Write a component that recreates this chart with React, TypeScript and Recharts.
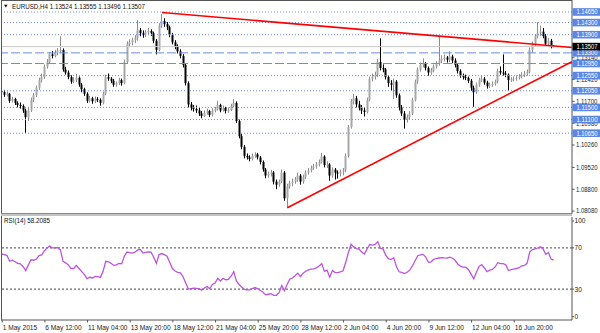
import React from 'react';
import { ComposedChart, Bar, XAxis, YAxis, ReferenceLine, LineChart, Line } from 'recharts';

// [open, high, low, close] per H4 bar, EURUSD, 1 May 2015 -> 18 Jun 2015
const ohlc: [number, number, number, number][] = [
  [1.1205, 1.1212, 1.1190, 1.1200], [1.1200, 1.1208, 1.1185, 1.1192], [1.1192, 1.1203, 1.1186, 1.1195], [1.1195, 1.1198, 1.1165, 1.1172],
  [1.1172, 1.1185, 1.1166, 1.1178], [1.1178, 1.1182, 1.1158, 1.1165], [1.1165, 1.1170, 1.1150, 1.1158], [1.1158, 1.1166, 1.1146, 1.1155],
  [1.1155, 1.1160, 1.1132, 1.1140], [1.1140, 1.1146, 1.1066, 1.1118], [1.1118, 1.1148, 1.1105, 1.1140], [1.1140, 1.1182, 1.1135, 1.1175],
  [1.1175, 1.1198, 1.1168, 1.1190], [1.1190, 1.1222, 1.1184, 1.1215], [1.1215, 1.1248, 1.1208, 1.1240], [1.1240, 1.1262, 1.1232, 1.1250],
  [1.1250, 1.1292, 1.1244, 1.1285], [1.1285, 1.1310, 1.1278, 1.1300], [1.1300, 1.1332, 1.1295, 1.1325], [1.1325, 1.1336, 1.1312, 1.1320],
  [1.1320, 1.1340, 1.1315, 1.1330], [1.1330, 1.1346, 1.1322, 1.1338], [1.1338, 1.1385, 1.1330, 1.1340], [1.1340, 1.1345, 1.1268, 1.1275],
  [1.1275, 1.1284, 1.1258, 1.1265], [1.1265, 1.1272, 1.1243, 1.1250], [1.1250, 1.1256, 1.1228, 1.1235], [1.1235, 1.1250, 1.1230, 1.1240],
  [1.1240, 1.1260, 1.1234, 1.1248], [1.1248, 1.1252, 1.1218, 1.1225], [1.1225, 1.1230, 1.1200, 1.1210], [1.1210, 1.1215, 1.1188, 1.1195],
  [1.1195, 1.1200, 1.1165, 1.1172], [1.1172, 1.1188, 1.1166, 1.1180], [1.1180, 1.1185, 1.1162, 1.1170], [1.1170, 1.1186, 1.1164, 1.1178],
  [1.1178, 1.1184, 1.1168, 1.1175], [1.1175, 1.1180, 1.1156, 1.1165], [1.1165, 1.1202, 1.1160, 1.1195], [1.1195, 1.1258, 1.1190, 1.1250],
  [1.1250, 1.1262, 1.1238, 1.1245], [1.1245, 1.1250, 1.1230, 1.1238], [1.1238, 1.1244, 1.1218, 1.1225], [1.1225, 1.1236, 1.1218, 1.1230],
  [1.1230, 1.1248, 1.1224, 1.1240], [1.1240, 1.1245, 1.1222, 1.1230], [1.1230, 1.1308, 1.1226, 1.1300], [1.1300, 1.1368, 1.1295, 1.1360],
  [1.1360, 1.1375, 1.1350, 1.1365], [1.1365, 1.1380, 1.1355, 1.1372], [1.1372, 1.1388, 1.1362, 1.1378], [1.1378, 1.1438, 1.1370, 1.1405],
  [1.1405, 1.1412, 1.1385, 1.1395], [1.1395, 1.1404, 1.1380, 1.1390], [1.1390, 1.1406, 1.1382, 1.1398], [1.1398, 1.1412, 1.1390, 1.1402],
  [1.1402, 1.1408, 1.1386, 1.1395], [1.1395, 1.1400, 1.1362, 1.1370], [1.1370, 1.1376, 1.1325, 1.1340], [1.1340, 1.1428, 1.1335, 1.1420],
  [1.1420, 1.1458, 1.1412, 1.1435], [1.1435, 1.1444, 1.1416, 1.1425], [1.1425, 1.1432, 1.1405, 1.1415], [1.1415, 1.1420, 1.1382, 1.1390],
  [1.1390, 1.1396, 1.1358, 1.1365], [1.1365, 1.1372, 1.1342, 1.1350], [1.1350, 1.1358, 1.1328, 1.1335], [1.1335, 1.1342, 1.1312, 1.1320],
  [1.1320, 1.1326, 1.1282, 1.1290], [1.1290, 1.1296, 1.1222, 1.1230], [1.1230, 1.1236, 1.1150, 1.1160], [1.1160, 1.1168, 1.1140, 1.1150],
  [1.1150, 1.1158, 1.1136, 1.1145], [1.1145, 1.1156, 1.1132, 1.1140], [1.1140, 1.1148, 1.1122, 1.1130], [1.1130, 1.1138, 1.1114, 1.1122],
  [1.1122, 1.1140, 1.1118, 1.1132], [1.1132, 1.1146, 1.1126, 1.1138], [1.1138, 1.1142, 1.1118, 1.1125], [1.1125, 1.1148, 1.1120, 1.1140],
  [1.1140, 1.1152, 1.1134, 1.1145], [1.1145, 1.1172, 1.1140, 1.1158], [1.1158, 1.1162, 1.1134, 1.1140], [1.1140, 1.1156, 1.1136, 1.1148],
  [1.1148, 1.1152, 1.1130, 1.1138], [1.1138, 1.1150, 1.1132, 1.1142], [1.1142, 1.1162, 1.1138, 1.1155], [1.1155, 1.1178, 1.1150, 1.1165],
  [1.1165, 1.1170, 1.1098, 1.1105], [1.1105, 1.1110, 1.1048, 1.1055], [1.1055, 1.1062, 1.1012, 1.1020], [1.1020, 1.1026, 1.0982, 1.0990],
  [1.0990, 1.0998, 1.0978, 1.0985], [1.0985, 1.0992, 1.0972, 1.0980], [1.0980, 1.0998, 1.0975, 1.0990], [1.0990, 1.1002, 1.0984, 1.0995],
  [1.0995, 1.1000, 1.0978, 1.0985], [1.0985, 1.0990, 1.0962, 1.0970], [1.0970, 1.0975, 1.0938, 1.0945], [1.0945, 1.0950, 1.0916, 1.0925],
  [1.0925, 1.0938, 1.0918, 1.0930], [1.0930, 1.0944, 1.0922, 1.0935], [1.0935, 1.0940, 1.0896, 1.0905], [1.0905, 1.0912, 1.0880, 1.0895],
  [1.0895, 1.0912, 1.0888, 1.0905], [1.0905, 1.0945, 1.0900, 1.0935], [1.0935, 1.0940, 1.0842, 1.0850], [1.0850, 1.0898, 1.0818, 1.0890],
  [1.0890, 1.0908, 1.0882, 1.0900], [1.0900, 1.0915, 1.0890, 1.0905], [1.0905, 1.0920, 1.0898, 1.0912], [1.0912, 1.0935, 1.0905, 1.0925],
  [1.0925, 1.0930, 1.0895, 1.0905], [1.0905, 1.0928, 1.0898, 1.0920], [1.0920, 1.0942, 1.0914, 1.0935], [1.0935, 1.0950, 1.0928, 1.0942],
  [1.0942, 1.0958, 1.0936, 1.0950], [1.0950, 1.0964, 1.0944, 1.0955], [1.0955, 1.0970, 1.0948, 1.0962], [1.0962, 1.0978, 1.0955, 1.0970],
  [1.0970, 1.1000, 1.0965, 1.0988], [1.0988, 1.0992, 1.0952, 1.0960], [1.0960, 1.0972, 1.0950, 1.0962], [1.0962, 1.0966, 1.0908, 1.0925],
  [1.0925, 1.0952, 1.0918, 1.0945], [1.0945, 1.0950, 1.0912, 1.0935], [1.0935, 1.0942, 1.0915, 1.0932], [1.0932, 1.0945, 1.0922, 1.0938],
  [1.0938, 1.0950, 1.0926, 1.0942], [1.0942, 1.0998, 1.0936, 1.0990], [1.0990, 1.1092, 1.0984, 1.1085], [1.1085, 1.1178, 1.1080, 1.1170],
  [1.1170, 1.1195, 1.1160, 1.1180], [1.1180, 1.1188, 1.1150, 1.1160], [1.1160, 1.1172, 1.1140, 1.1150], [1.1150, 1.1158, 1.1128, 1.1140],
  [1.1140, 1.1150, 1.1120, 1.1135], [1.1135, 1.1182, 1.1130, 1.1175], [1.1175, 1.1252, 1.1170, 1.1245], [1.1245, 1.1262, 1.1236, 1.1252],
  [1.1252, 1.1268, 1.1242, 1.1258], [1.1258, 1.1310, 1.1250, 1.1300], [1.1300, 1.1378, 1.1272, 1.1280], [1.1280, 1.1292, 1.1266, 1.1275],
  [1.1275, 1.1280, 1.1242, 1.1250], [1.1250, 1.1256, 1.1218, 1.1230], [1.1230, 1.1240, 1.1205, 1.1225], [1.1225, 1.1245, 1.1178, 1.1235],
  [1.1235, 1.1240, 1.1182, 1.1190], [1.1190, 1.1196, 1.1140, 1.1150], [1.1150, 1.1158, 1.1122, 1.1130], [1.1130, 1.1138, 1.1080, 1.1110],
  [1.1110, 1.1126, 1.1100, 1.1118], [1.1118, 1.1138, 1.1110, 1.1130], [1.1130, 1.1182, 1.1125, 1.1175], [1.1175, 1.1242, 1.1170, 1.1235],
  [1.1235, 1.1282, 1.1228, 1.1275], [1.1275, 1.1298, 1.1268, 1.1290], [1.1290, 1.1312, 1.1282, 1.1295], [1.1295, 1.1300, 1.1272, 1.1280],
  [1.1280, 1.1285, 1.1255, 1.1265], [1.1265, 1.1280, 1.1258, 1.1272], [1.1272, 1.1292, 1.1266, 1.1285], [1.1285, 1.1302, 1.1278, 1.1295],
  [1.1295, 1.1385, 1.1288, 1.1305], [1.1305, 1.1322, 1.1296, 1.1310], [1.1310, 1.1325, 1.1302, 1.1315], [1.1315, 1.1320, 1.1298, 1.1308],
  [1.1308, 1.1335, 1.1300, 1.1318], [1.1318, 1.1324, 1.1296, 1.1305], [1.1305, 1.1312, 1.1282, 1.1290], [1.1290, 1.1296, 1.1262, 1.1270],
  [1.1270, 1.1276, 1.1248, 1.1255], [1.1255, 1.1262, 1.1242, 1.1250], [1.1250, 1.1258, 1.1240, 1.1248], [1.1248, 1.1252, 1.1230, 1.1238],
  [1.1238, 1.1244, 1.1205, 1.1215], [1.1215, 1.1222, 1.1152, 1.1200], [1.1200, 1.1232, 1.1195, 1.1225], [1.1225, 1.1248, 1.1218, 1.1240],
  [1.1240, 1.1255, 1.1234, 1.1245], [1.1245, 1.1250, 1.1225, 1.1232], [1.1232, 1.1238, 1.1212, 1.1220], [1.1220, 1.1232, 1.1214, 1.1225],
  [1.1225, 1.1236, 1.1218, 1.1228], [1.1228, 1.1242, 1.1222, 1.1235], [1.1235, 1.1278, 1.1230, 1.1270], [1.1270, 1.1285, 1.1258, 1.1265],
  [1.1265, 1.1325, 1.1255, 1.1262], [1.1262, 1.1270, 1.1250, 1.1258], [1.1258, 1.1262, 1.1205, 1.1240], [1.1240, 1.1250, 1.1234, 1.1242],
  [1.1242, 1.1252, 1.1236, 1.1245], [1.1245, 1.1256, 1.1238, 1.1248], [1.1248, 1.1260, 1.1242, 1.1252], [1.1252, 1.1266, 1.1246, 1.1258],
  [1.1258, 1.1270, 1.1250, 1.1262], [1.1262, 1.1275, 1.1255, 1.1268], [1.1268, 1.1348, 1.1262, 1.1340], [1.1340, 1.1368, 1.1330, 1.1360],
  [1.1360, 1.1392, 1.1352, 1.1385], [1.1385, 1.1432, 1.1378, 1.1395], [1.1395, 1.1420, 1.1385, 1.1400], [1.1400, 1.1412, 1.1378, 1.1385],
  [1.1385, 1.1392, 1.1355, 1.1360], [1.1360, 1.1380, 1.1352, 1.1370], [1.1370, 1.1376, 1.1345, 1.1352], [1.13524, 1.13555, 1.13496, 1.13507],
];

const rsi: number[] = [
  63.9, 63.5, 62.5, 57, 58, 56.5, 55, 54.5, 52, 48,
  53.5, 58.5, 58, 59, 62.5, 63.2, 67, 70, 71.9, 70,
  70, 70.3, 68, 57, 55.5, 53.5, 50, 50, 53, 50,
  47, 44, 40.2, 41.5, 40.8, 42.3, 42.2, 41.4, 47, 57,
  56.5, 55, 53, 53.5, 55, 54.5, 62, 66, 65.5, 65,
  65.8, 68, 68.5, 65, 65.7, 66, 65.8, 61, 55, 63.5,
  64.5, 63.5, 62, 56, 50, 47.5, 46.3, 45.8, 42, 36,
  30, 30.5, 31, 30.7, 30.4, 29, 31, 32.5, 30.3, 34.5,
  35.8, 40.5, 37.8, 40.4, 39, 39.5, 42.5, 47, 38, 34.5,
  32, 29.8, 29.3, 29.3, 30.4, 31.5, 30.3, 28.6, 26.9, 24.4,
  25, 25.6, 24, 24, 26.5, 33.5, 28.5, 34.5, 39.6, 40.8,
  43, 45.5, 42, 45.5, 47.3, 48.6, 49.4, 49.6, 50.6, 52.4,
  54.7, 47.2, 48.5, 41.5, 48, 46, 46, 46.7, 47.8, 56,
  65.5, 73.6, 71, 69.4, 68.9, 66, 64, 69, 73.3, 72.7,
  73.3, 76.1, 69.6, 68.8, 63, 59.5, 58.7, 60.5, 52, 46.8,
  46.2, 45, 46.3, 48.4, 52.5, 57.5, 62.4, 63.2, 63.7, 61,
  56, 56.5, 58.8, 59.7, 60.2, 60.6, 60.3, 60.1, 61, 60,
  58, 54.4, 52.3, 51.3, 51.3, 49, 44.5, 40, 46.3, 52,
  53.8, 50.5, 47, 48.4, 49, 51.5, 55.6, 54.8, 54.8, 53.7,
  48, 48.8, 49.5, 50, 50.8, 52.6, 53, 55, 66, 68.4,
  69, 69.9, 71, 69, 63.8, 65.5, 59.2, 58.2085,
];

const timeTicks = [0, 16, 32, 48, 64, 80, 96, 112, 128, 144, 160, 176, 192];
const timeLabels = [
  '1 May 2015', '6 May 12:00', '11 May 04:00', '13 May 20:00', '18 May 12:00', '21 May 04:00',
  '25 May 20:00', '28 May 12:00', '2 Jun 04:00', '4 Jun 20:00', '9 Jun 12:00', '12 Jun 04:00', '16 Jun 20:00',
];

const priceTicks = [1.0808, 1.088, 1.0952, 1.1026, 1.1098, 1.117, 1.1242, 1.1314];
const dottedLevels = [1.1465, 1.143, 1.139, 1.1255, 1.1205, 1.115, 1.111, 1.1065];
const dashedLevels = [1.133, 1.1295];
const lastPrice = 1.13507;
const upperTrend = [{ x: 60.1, y: 1.1463 }, { x: 213.8, y: 1.1348 }];
const lowerTrend = [{ x: 107.1, y: 1.0819 }, { x: 213.8, y: 1.1301 }];
const rsiLevels = [30, 70];
const rsiTicks = [0, 30, 70, 100];
const titleText = 'EURUSD,H4  1.13524 1.13555 1.13496 1.13507';
const rsiTitle = 'RSI(14) 58.2085';

const xDomain: [number, number] = [-0.26, 213.84];
const priceDomain: [number, number] = [1.07983, 1.15045];

const FONT = '"Liberation Sans", Arial, sans-serif';
const BOX_BLUE = '#5a86e6';
const LEVEL_BLUE = '#6a8ce8';

const candles = ohlc.map(([o, h, l, c], i) => ({ i, o, h, l, c, range: [l, h] }));
const rsiRows = rsi.map((v, i) => ({ i, v }));
const boxLevels = [...dottedLevels, ...dashedLevels];
const allPriceTicks = [...priceTicks, ...boxLevels, lastPrice];

const renderCandle = (props: any) => {
  const { x, y, width, height, payload } = props;
  if (!payload || x == null || y == null) return <g />;
  const { o, h, l, c } = payload;
  const span = h - l;
  const toY = (p: number) => (span > 0 ? y + ((h - p) / span) * height : y);
  const px = Math.round(x + width / 2);
  const up = c >= o;
  const top = toY(Math.max(o, c));
  const bot = toY(Math.min(o, c));
  return (
    <g>
      <line x1={px + 0.5} x2={px + 0.5} y1={y} y2={y + height} stroke={up ? '#8c8c8c' : '#000'} strokeWidth={1} />
      <rect x={px - 0.5} y={top} width={2} height={Math.max(bot - top, 1)} fill={up ? '#a8a8a8' : '#000'} />
    </g>
  );
};

const PriceTick = (props: any) => {
  const { x, y, payload } = props;
  const v: number = payload.value;
  const txt = v.toFixed(5);
  if (v === lastPrice) {
    return (
      <g>
        <rect x={x + 0.5} y={y - 3.8} width={27.5} height={7.6} fill="#000" />
        <text x={x + 4.5} y={y + 2.4} fill="#fff" fontSize={6.6} fontFamily={FONT} textLength={21} lengthAdjust="spacingAndGlyphs">{txt}</text>
      </g>
    );
  }
  if (boxLevels.includes(v)) {
    return (
      <g>
        <rect x={x + 0.5} y={y - 3.8} width={27.5} height={7.6} fill={BOX_BLUE} />
        <text x={x + 4.5} y={y + 2.4} fill="#fff" fontSize={6.6} fontFamily={FONT} textLength={21} lengthAdjust="spacingAndGlyphs">{txt}</text>
      </g>
    );
  }
  return (
    <g>
      <line x1={x} x2={x + 2.5} y1={y} y2={y} stroke="#555" />
      <text x={x + 4} y={y + 2.4} fill="#222" fontSize={6.6} fontFamily={FONT} textLength={21.5} lengthAdjust="spacingAndGlyphs">{txt}</text>
    </g>
  );
};

const RsiTick = (props: any) => {
  const { x, y, payload } = props;
  const v: number = payload.value;
  const dy = v === 100 ? 4 : v === 0 ? -3.3 : 0;
  return (
    <g>
      <line x1={x} x2={x + 2} y1={y + dy} y2={y + dy} stroke="#555" />
      <text x={x + 2.5} y={y + dy + 2.4} fill="#222" fontSize={6.6} fontFamily={FONT}>{String(v)}</text>
    </g>
  );
};

const TimeTick = (props: any) => {
  const { x, y, payload } = props;
  const idx = timeTicks.indexOf(payload.value);
  return (
    <g>
      <line x1={x + 0.5} x2={x + 0.5} y1={y} y2={y + 2.5} stroke="#555" />
      <text x={x + 1} y={y + 9.8} fill="#222" fontSize={6.6} fontFamily={FONT}>{timeLabels[idx]}</text>
    </g>
  );
};

export default function App() {
  return (
    <div style={{ position: 'absolute', left: 0, top: 0, width: 600, height: 333, background: '#fff', overflow: 'hidden' }}>
      <div style={{ position: 'absolute', left: 0, top: 0 }}>
        <ComposedChart width={600} height={214} data={candles} margin={{ top: 0, right: 0, bottom: 0, left: 1 }}>
          <XAxis dataKey="i" type="number" domain={xDomain} allowDataOverflow hide />
          <YAxis
            orientation="right"
            width={28}
            domain={priceDomain}
            allowDataOverflow
            ticks={allPriceTicks}
            interval={0}
            tick={<PriceTick />}
            tickLine={false}
            tickSize={0}
            tickMargin={0}
            axisLine={{ stroke: '#555' }}
          />
          {dottedLevels.map((v) => (
            <ReferenceLine key={'d' + v} y={v} stroke={LEVEL_BLUE} strokeDasharray="1 2" />
          ))}
          {dashedLevels.map((v) => (
            <ReferenceLine key={'s' + v} y={v} stroke={LEVEL_BLUE} strokeDasharray="9 3" />
          ))}
          <ReferenceLine y={lastPrice} stroke="#c8c8c8" />
          <Bar dataKey="range" barSize={2} shape={renderCandle} isAnimationActive={false} />
          <ReferenceLine segment={upperTrend} stroke="#ff0000" strokeWidth={1.6} />
          <ReferenceLine segment={lowerTrend} stroke="#ff0000" strokeWidth={1.6} />
        </ComposedChart>
      </div>
      <div style={{ position: 'absolute', left: 0, top: 217 }}>
        <LineChart width={600} height={116} data={rsiRows} margin={{ top: 0, right: 0, bottom: 0, left: 1 }}>
          <XAxis
            dataKey="i"
            type="number"
            domain={xDomain}
            allowDataOverflow
            ticks={timeTicks}
            interval={0}
            height={13}
            tick={<TimeTick />}
            tickLine={false}
            tickSize={0}
            tickMargin={0}
            axisLine={{ stroke: '#555' }}
          />
          <YAxis
            orientation="right"
            width={28}
            domain={[0, 100]}
            allowDataOverflow
            ticks={rsiTicks}
            interval={0}
            tick={<RsiTick />}
            tickLine={false}
            tickSize={0}
            tickMargin={0}
            axisLine={{ stroke: '#555' }}
          />
          {rsiLevels.map((v) => (
            <ReferenceLine key={'r' + v} y={v} stroke="#444" strokeDasharray="2 2" />
          ))}
          <Line dataKey="v" type="linear" stroke="#bb55dd" strokeWidth={1.3} dot={false} isAnimationActive={false} />
        </LineChart>
      </div>
      <div style={{ position: 'absolute', left: 1, top: 0, width: 571, height: 1, background: '#555' }} />
      <div style={{ position: 'absolute', left: 1, top: 0, width: 1, height: 320, background: '#555' }} />
      <div style={{ position: 'absolute', left: 1, top: 213, width: 571, height: 1, background: '#8a8a8a' }} />
      <div style={{ position: 'absolute', left: 1, top: 214, width: 571, height: 2, background: '#c4c4c4' }} />
      <svg width={600} height={333} style={{ position: 'absolute', left: 0, top: 0, pointerEvents: 'none' }}>
        <polygon points="4,4.8 7.6,4.8 5.8,7.6" fill="#000" />
        <text x={12} y={9} fontSize={6.6} fill="#111" fontFamily={FONT} textLength={133} lengthAdjust="spacingAndGlyphs">{titleText}</text>
        <text x={4} y={223} fontSize={6.6} fill="#111" fontFamily={FONT} textLength={46} lengthAdjust="spacingAndGlyphs">{rsiTitle}</text>
      </svg>
    </div>
  );
}
